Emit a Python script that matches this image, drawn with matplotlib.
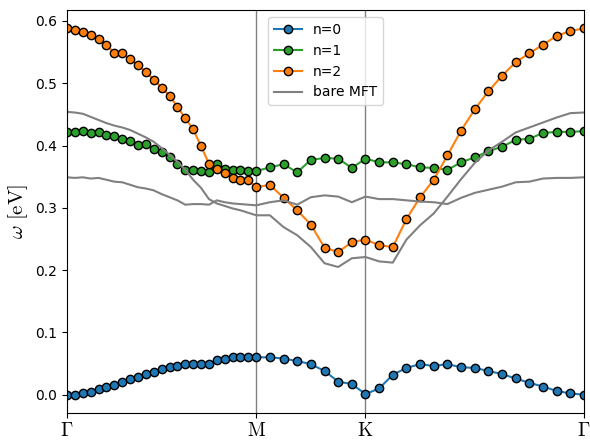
import numpy as np
import matplotlib
matplotlib.use("Agg")
import matplotlib.pyplot as plt

plt.rcParams['mathtext.fontset'] = 'cm'

# k-path: Gamma-M (24 steps), M-K (8 steps), K-Gamma (16 steps)
seg_len = [np.sqrt(3) / 2, 0.5, 1.0]
seg_pts = [24, 8, 16]
k_labels = [r'$\Gamma$', r'$\mathrm{M}$', r'$\mathrm{K}$', r'$\Gamma$']

# dispersion values (eV)
n0 = [0.000, 0.000, 0.002, 0.005, 0.009, 0.013, 0.016, 0.021, 0.025, 0.029,
      0.033, 0.037, 0.041, 0.045, 0.046, 0.049, 0.050, 0.050, 0.049, 0.056,
      0.058, 0.060, 0.061, 0.061, 0.060,
      0.060, 0.058, 0.054, 0.049, 0.038, 0.021, 0.017, 0.001,
      0.010, 0.032, 0.043, 0.049, 0.046, 0.049, 0.044, 0.043, 0.038, 0.033,
      0.026, 0.019, 0.013, 0.006, 0.002, 0.000]

n1 = [0.422, 0.421, 0.424, 0.420, 0.422, 0.417, 0.416, 0.410, 0.408, 0.401,
      0.403, 0.395, 0.389, 0.381, 0.371, 0.360, 0.360, 0.359, 0.358, 0.370,
      0.362, 0.361, 0.360, 0.359, 0.359,
      0.365, 0.370, 0.357, 0.377, 0.380, 0.379, 0.364, 0.379,
      0.373, 0.373, 0.370, 0.365, 0.364, 0.361, 0.373, 0.381, 0.391, 0.398,
      0.409, 0.411, 0.420, 0.422, 0.422, 0.423]

n2 = [0.588, 0.586, 0.583, 0.578, 0.571, 0.562, 0.548, 0.548, 0.539, 0.529,
      0.518, 0.506, 0.493, 0.480, 0.462, 0.444, 0.426, 0.399, 0.371, 0.363,
      0.356, 0.348, 0.344, 0.344, 0.333,
      0.337, 0.316, 0.296, 0.273, 0.236, 0.229, 0.245, 0.249,
      0.240, 0.237, 0.282, 0.317, 0.345, 0.384, 0.424, 0.458, 0.487, 0.512,
      0.534, 0.548, 0.562, 0.576, 0.584, 0.588]

mft_a = [0.454, 0.453, 0.451, 0.446, 0.441, 0.436, 0.432, 0.429, 0.425, 0.419,
         0.413, 0.406, 0.396, 0.385, 0.374, 0.361, 0.345, 0.332, 0.314, 0.307,
         0.303, 0.299, 0.296, 0.292, 0.288,
         0.288, 0.269, 0.256, 0.237, 0.211, 0.205, 0.219, 0.221,
         0.214, 0.212, 0.249, 0.272, 0.291, 0.318, 0.346, 0.372, 0.392, 0.406,
         0.421, 0.429, 0.437, 0.445, 0.452, 0.453]

mft_b = [0.349, 0.348, 0.349, 0.347, 0.348, 0.345, 0.342, 0.341, 0.337, 0.333,
         0.331, 0.328, 0.322, 0.317, 0.312, 0.305, 0.306, 0.306, 0.305, 0.312,
         0.309, 0.307, 0.306, 0.305, 0.304,
         0.309, 0.312, 0.305, 0.317, 0.320, 0.318, 0.309, 0.318,
         0.314, 0.314, 0.312, 0.310, 0.309, 0.306, 0.316, 0.324, 0.329, 0.334,
         0.341, 0.342, 0.347, 0.348, 0.348, 0.349]

# build path coordinate
k = [0.0]
nodes = [0.0]
for L, n in zip(seg_len, seg_pts):
    start = nodes[-1]
    k += list(start + L * np.arange(1, n + 1) / n)
    nodes.append(start + L)
k = np.array(k)

fig, ax = plt.subplots(figsize=(5.9, 4.4), dpi=100)
fig.subplots_adjust(left=0.1136, right=0.9898, top=0.977, bottom=0.0614)

for xv in nodes[1:-1]:
    ax.axvline(xv, color='gray', lw=1)

mk = dict(marker='o', markersize=6, markeredgecolor='black', markeredgewidth=1, lw=1.5)
ax.plot(k, n0, color='#1f77b4', label='n=0', **mk)
ax.plot(k, n1, color='#2ca02c', label='n=1', **mk)
ax.plot(k, n2, color='#ff7f0e', label='n=2', **mk)
ax.plot(k, mft_a, color='gray', lw=1.5, label='bare MFT')
ax.plot(k, mft_b, color='gray', lw=1.5)

ax.set_xlim(nodes[0], nodes[-1])
ax.set_xticks(nodes)
ax.set_xticklabels(k_labels, fontsize=14)
ax.tick_params(axis='x', pad=2)
ax.set_ylabel(r'$\omega\ [\mathrm{eV}]$', fontsize=15)
ax.legend(loc='upper center')

fig.savefig('out.png', dpi=100)
